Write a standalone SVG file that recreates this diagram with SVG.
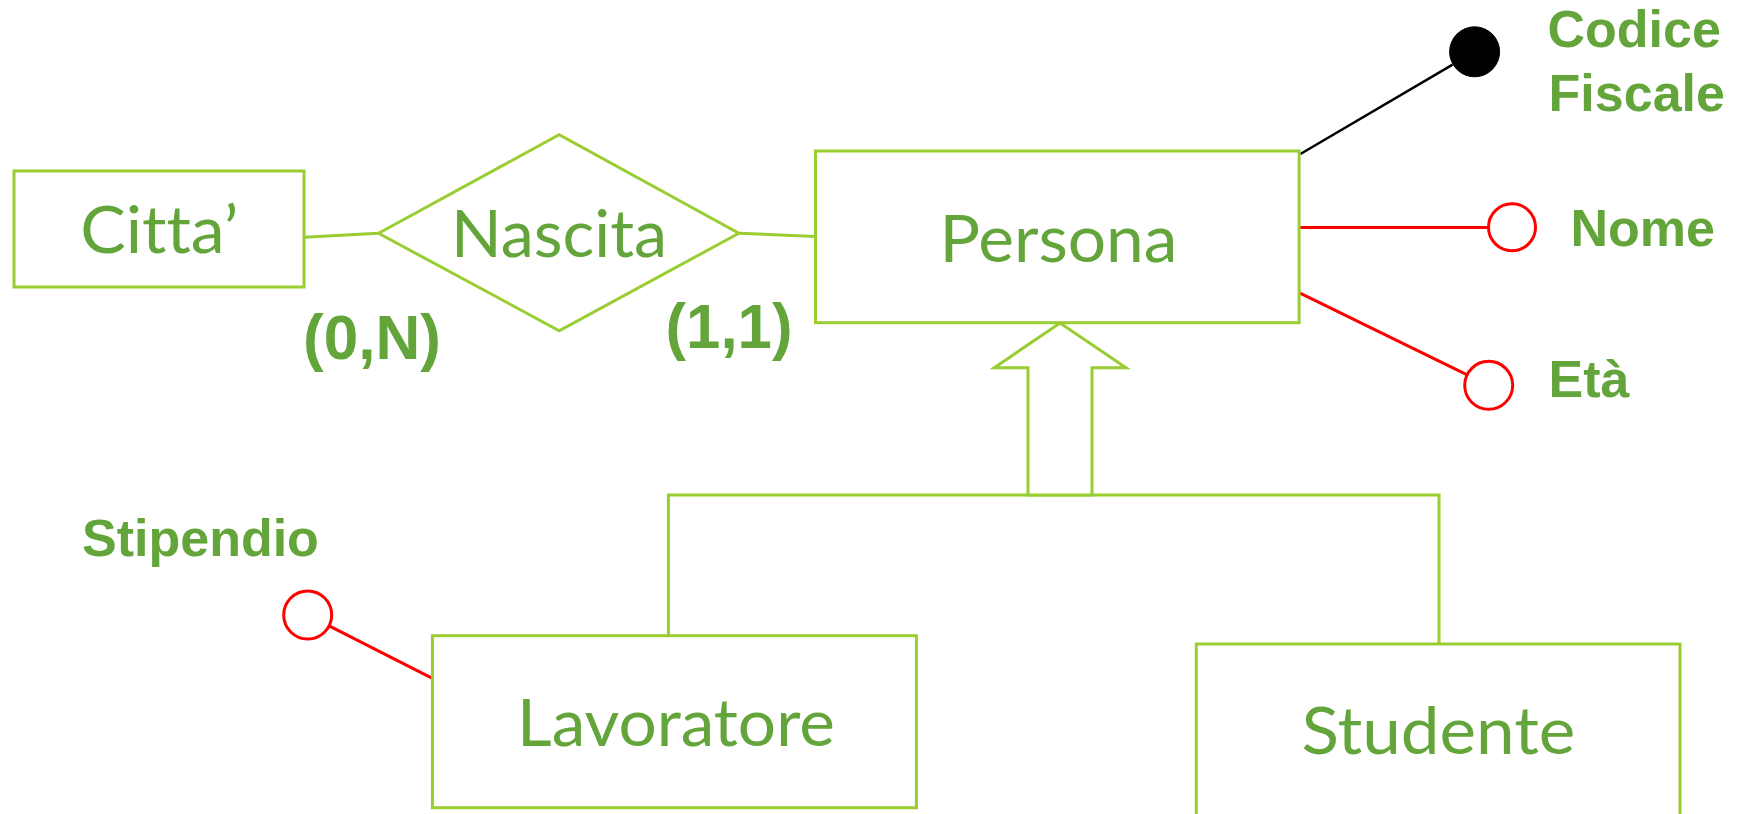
<svg xmlns="http://www.w3.org/2000/svg" width="1740" height="814" viewBox="0 0 1740 814">
  <style>
    .shape { fill: #ffffff; stroke: #9acd32; stroke-width: 3; }
    .link { fill: none; stroke: #9acd32; stroke-width: 3; }
    .attr-line { fill: none; stroke: #ff0000; stroke-width: 3; }
    .key-line { fill: none; stroke: #000000; stroke-width: 2.5; }
    .attr { fill: #ffffff; stroke: #ff0000; stroke-width: 3; }
    .key { fill: #000000; stroke: #000000; stroke-width: 1; }
    .label { font-family: Lato, "Open Sans", "Liberation Sans", sans-serif; font-size: 66px; fill: #63a53a; text-anchor: middle; font-variant-ligatures: none; }
    .attr-label { font-family: "Liberation Sans", Arial, sans-serif; font-weight: bold; font-size: 52px; fill: #63a53a; }
    .card { font-family: "Liberation Sans", Arial, sans-serif; font-weight: bold; font-size: 63px; fill: #63a53a; }
  </style>

  <rect width="1740" height="814" fill="#ffffff"/>

  <!-- connectors -->
  <g id="connectors">
    <line class="link" x1="304" y1="237.3" x2="378.6" y2="233.3"/>
    <line class="link" x1="738.8" y1="233.3" x2="815.5" y2="236.5"/>
    <line class="key-line" x1="1300.4" y1="154" x2="1452.6" y2="64.7"/>
    <line class="attr-line" x1="1299" y1="227.5" x2="1488" y2="227.5"/>
    <line class="attr-line" x1="1299" y1="292.7" x2="1466.7" y2="374.6"/>
    <line class="attr-line" x1="432.4" y1="678.3" x2="329.6" y2="626.1"/>
    <!-- generalisation: Lavoratore / Studente to Persona -->
    <polyline class="link" points="668.4,635.7 668.4,495 1439,495 1439,644"/>
    <polygon class="shape" points="1060,323 1126,367.7 1092,367.7 1092,495 1028,495 1028,367.7 994.3,367.7"/>
  </g>

  <g id="citta">
    <rect class="shape" x="14" y="171" width="290" height="116"/>
    <text class="label" x="159.2" y="253" textLength="158" lengthAdjust="spacingAndGlyphs">Citta’</text>
  </g>

  <g id="nascita">
    <polygon class="shape" points="378.6,233.3 559.2,134.7 738.8,233.3 559.2,330.7"/>
    <text class="label" x="559" y="257" textLength="216" lengthAdjust="spacingAndGlyphs">Nascita</text>
  </g>

  <g id="card-citta">
    <text class="card" x="303" y="359.3" textLength="138" lengthAdjust="spacingAndGlyphs">(0,N)</text>
  </g>
  <g id="card-persona">
    <text class="card" x="665.5" y="347.7" textLength="127" lengthAdjust="spacingAndGlyphs">(1,1)</text>
  </g>

  <g id="persona">
    <rect class="shape" x="815.5" y="151" width="483.6" height="171.7"/>
    <text class="label" x="1058.5" y="262" textLength="238" lengthAdjust="spacingAndGlyphs">Persona</text>
  </g>

  <g id="codice-fiscale">
    <circle class="key" cx="1474.6" cy="51.8" r="25"/>
    <text class="attr-label" x="1547.5" y="46.7">Codice</text>
    <text class="attr-label" x="1548.6" y="110.7">Fiscale</text>
  </g>

  <g id="nome">
    <circle class="attr" cx="1512" cy="227.3" r="23.5"/>
    <text class="attr-label" x="1570.5" y="245.7">Nome</text>
  </g>

  <g id="eta">
    <circle class="attr" cx="1488.7" cy="385.3" r="24"/>
    <text class="attr-label" x="1548.6" y="396.7">Età</text>
  </g>

  <g id="lavoratore">
    <rect class="shape" x="432.4" y="635.7" width="484" height="172"/>
    <text class="label" x="676" y="746" textLength="318" lengthAdjust="spacingAndGlyphs">Lavoratore</text>
  </g>

  <g id="stipendio">
    <circle class="attr" cx="307.7" cy="615" r="24"/>
    <text class="attr-label" x="82" y="555.7">Stipendio</text>
  </g>

  <g id="studente">
    <rect class="shape" x="1196.3" y="644" width="483.7" height="200"/>
    <text class="label" x="1438.4" y="754" textLength="274" lengthAdjust="spacingAndGlyphs">Studente</text>
  </g>
</svg>
